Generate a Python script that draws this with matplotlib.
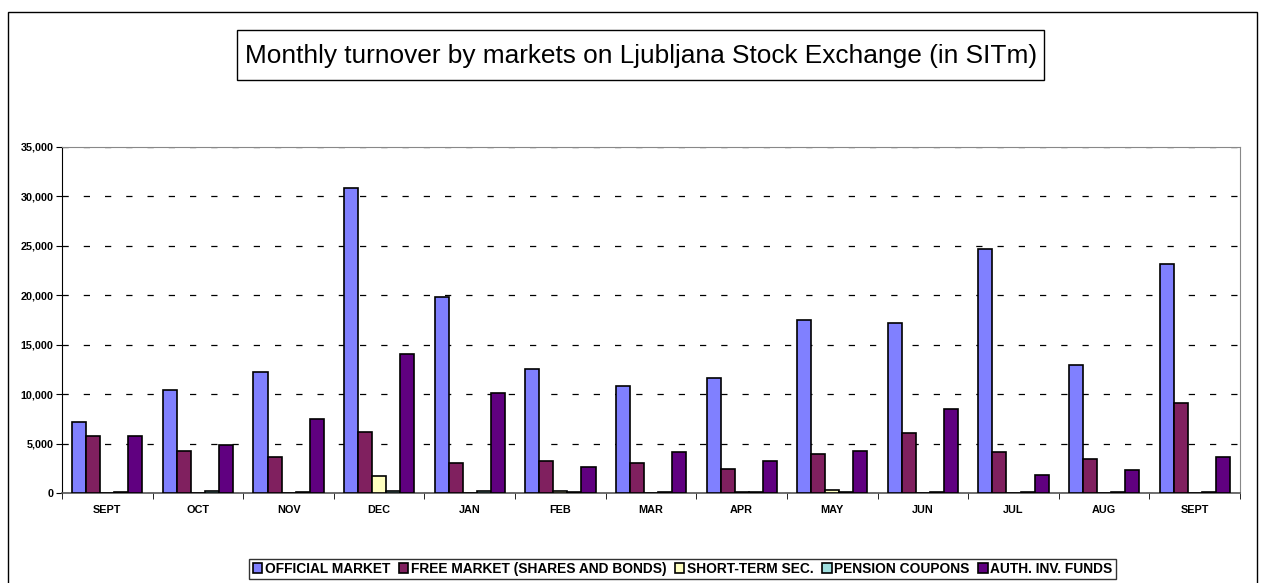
import matplotlib
matplotlib.use('Agg')
import matplotlib.pyplot as plt
import numpy as np
from matplotlib.patches import Rectangle

plt.rcParams['font.family'] = ['Liberation Sans', 'DejaVu Sans']

# 데이터
months = ['SEPT', 'OCT', 'NOV', 'DEC', 'JAN', 'FEB', 'MAR', 'APR', 'MAY', 'JUN', 'JUL', 'AUG', 'SEPT']
official = [7200, 10450, 12250, 30800, 19850, 12500, 10800, 11600, 17500, 17150, 24700, 12900, 23100]
free_market = [5800, 4200, 3600, 6200, 3000, 3200, 3000, 2450, 3900, 6100, 4150, 3400, 9050]
short_term = [0, 0, 0, 1750, 0, 250, 0, 50, 350, 0, 0, 0, 0]
pension = [100, 220, 120, 250, 250, 100, 100, 50, 80, 50, 100, 60, 80]
auth_funds = [5800, 4800, 7500, 14000, 10150, 2600, 4100, 3250, 4250, 8500, 1800, 2350, 3600]

series_names = ['OFFICIAL MARKET', 'FREE MARKET (SHARES AND BONDS)', 'SHORT-TERM SEC.',
                'PENSION COUPONS', 'AUTH. INV. FUNDS']
colors = ['#8080FF', '#80205F', '#FFFFC0', '#A0E0E0', '#600080']

fig = plt.figure(figsize=(12.66, 5.83), dpi=100)
ax = fig.add_axes([0.049, 0.1544, 0.9305, 0.594])

x = np.arange(len(months))
bw = 0.155
all_series = [official, free_market, short_term, pension, auth_funds]
for i, (vals, c, name) in enumerate(zip(all_series, colors, series_names)):
    ax.bar(x + (i - 2) * bw, vals, bw, color=c, edgecolor='black', linewidth=1.2,
           label=name, zorder=3)

ax.set_xlim(-0.5, len(months) - 0.5)
ax.set_ylim(0, 35000)
ax.set_yticks(np.arange(0, 35001, 5000))
ax.set_yticklabels([f'{v:,}' for v in range(0, 35001, 5000)], fontsize=7.8, fontweight='bold')
ax.set_xticks(x)
ax.set_xticklabels(months, fontsize=7.8, fontweight='bold')
ax.set_xticks(np.arange(-0.5, len(months)), minor=True)
ax.tick_params(axis='x', which='major', length=0, pad=9)
ax.tick_params(axis='x', which='minor', length=4, direction='out')
ax.tick_params(axis='y', length=4, direction='out', pad=2)
ax.grid(axis='y', linestyle=(0, (5, 12)), color='black', linewidth=0.9, zorder=0)

for s in ['top', 'right']:
    ax.spines[s].set_color('#888888')
ax.spines['left'].set_color('black')
ax.spines['bottom'].set_color('#555555')
ax.spines['bottom'].set_linewidth(1.2)

# 제목 박스
fig.patches.append(Rectangle((237 / 1266, 1 - 80 / 583), 807 / 1266, 50 / 583,
                             transform=fig.transFigure, fill=False, edgecolor='black', linewidth=1))
fig.text(641 / 1266, 1 - 56 / 583, 'Monthly turnover by markets on Ljubljana Stock Exchange (in SITm)',
         ha='center', va='center', fontsize=18.9)

# 범례
leg = fig.legend(loc='center', bbox_to_anchor=(682.5 / 1266, 1 - 569 / 583), ncol=5, frameon=True,
                 fancybox=False, edgecolor='black', handlelength=0.7, handleheight=0.7,
                 handletextpad=0.2, columnspacing=0.6, borderpad=0.25,
                 prop={'size': 9.9, 'weight': 'bold'})
leg.get_frame().set_linewidth(1)

# 바깥 테두리
fig.patches.append(Rectangle((8 / 1266, -0.01), 1249 / 1266, 1 - 12 / 583 + 0.01,
                             transform=fig.transFigure, fill=False, edgecolor='black', linewidth=1))

plt.savefig('out.png', dpi=100)
